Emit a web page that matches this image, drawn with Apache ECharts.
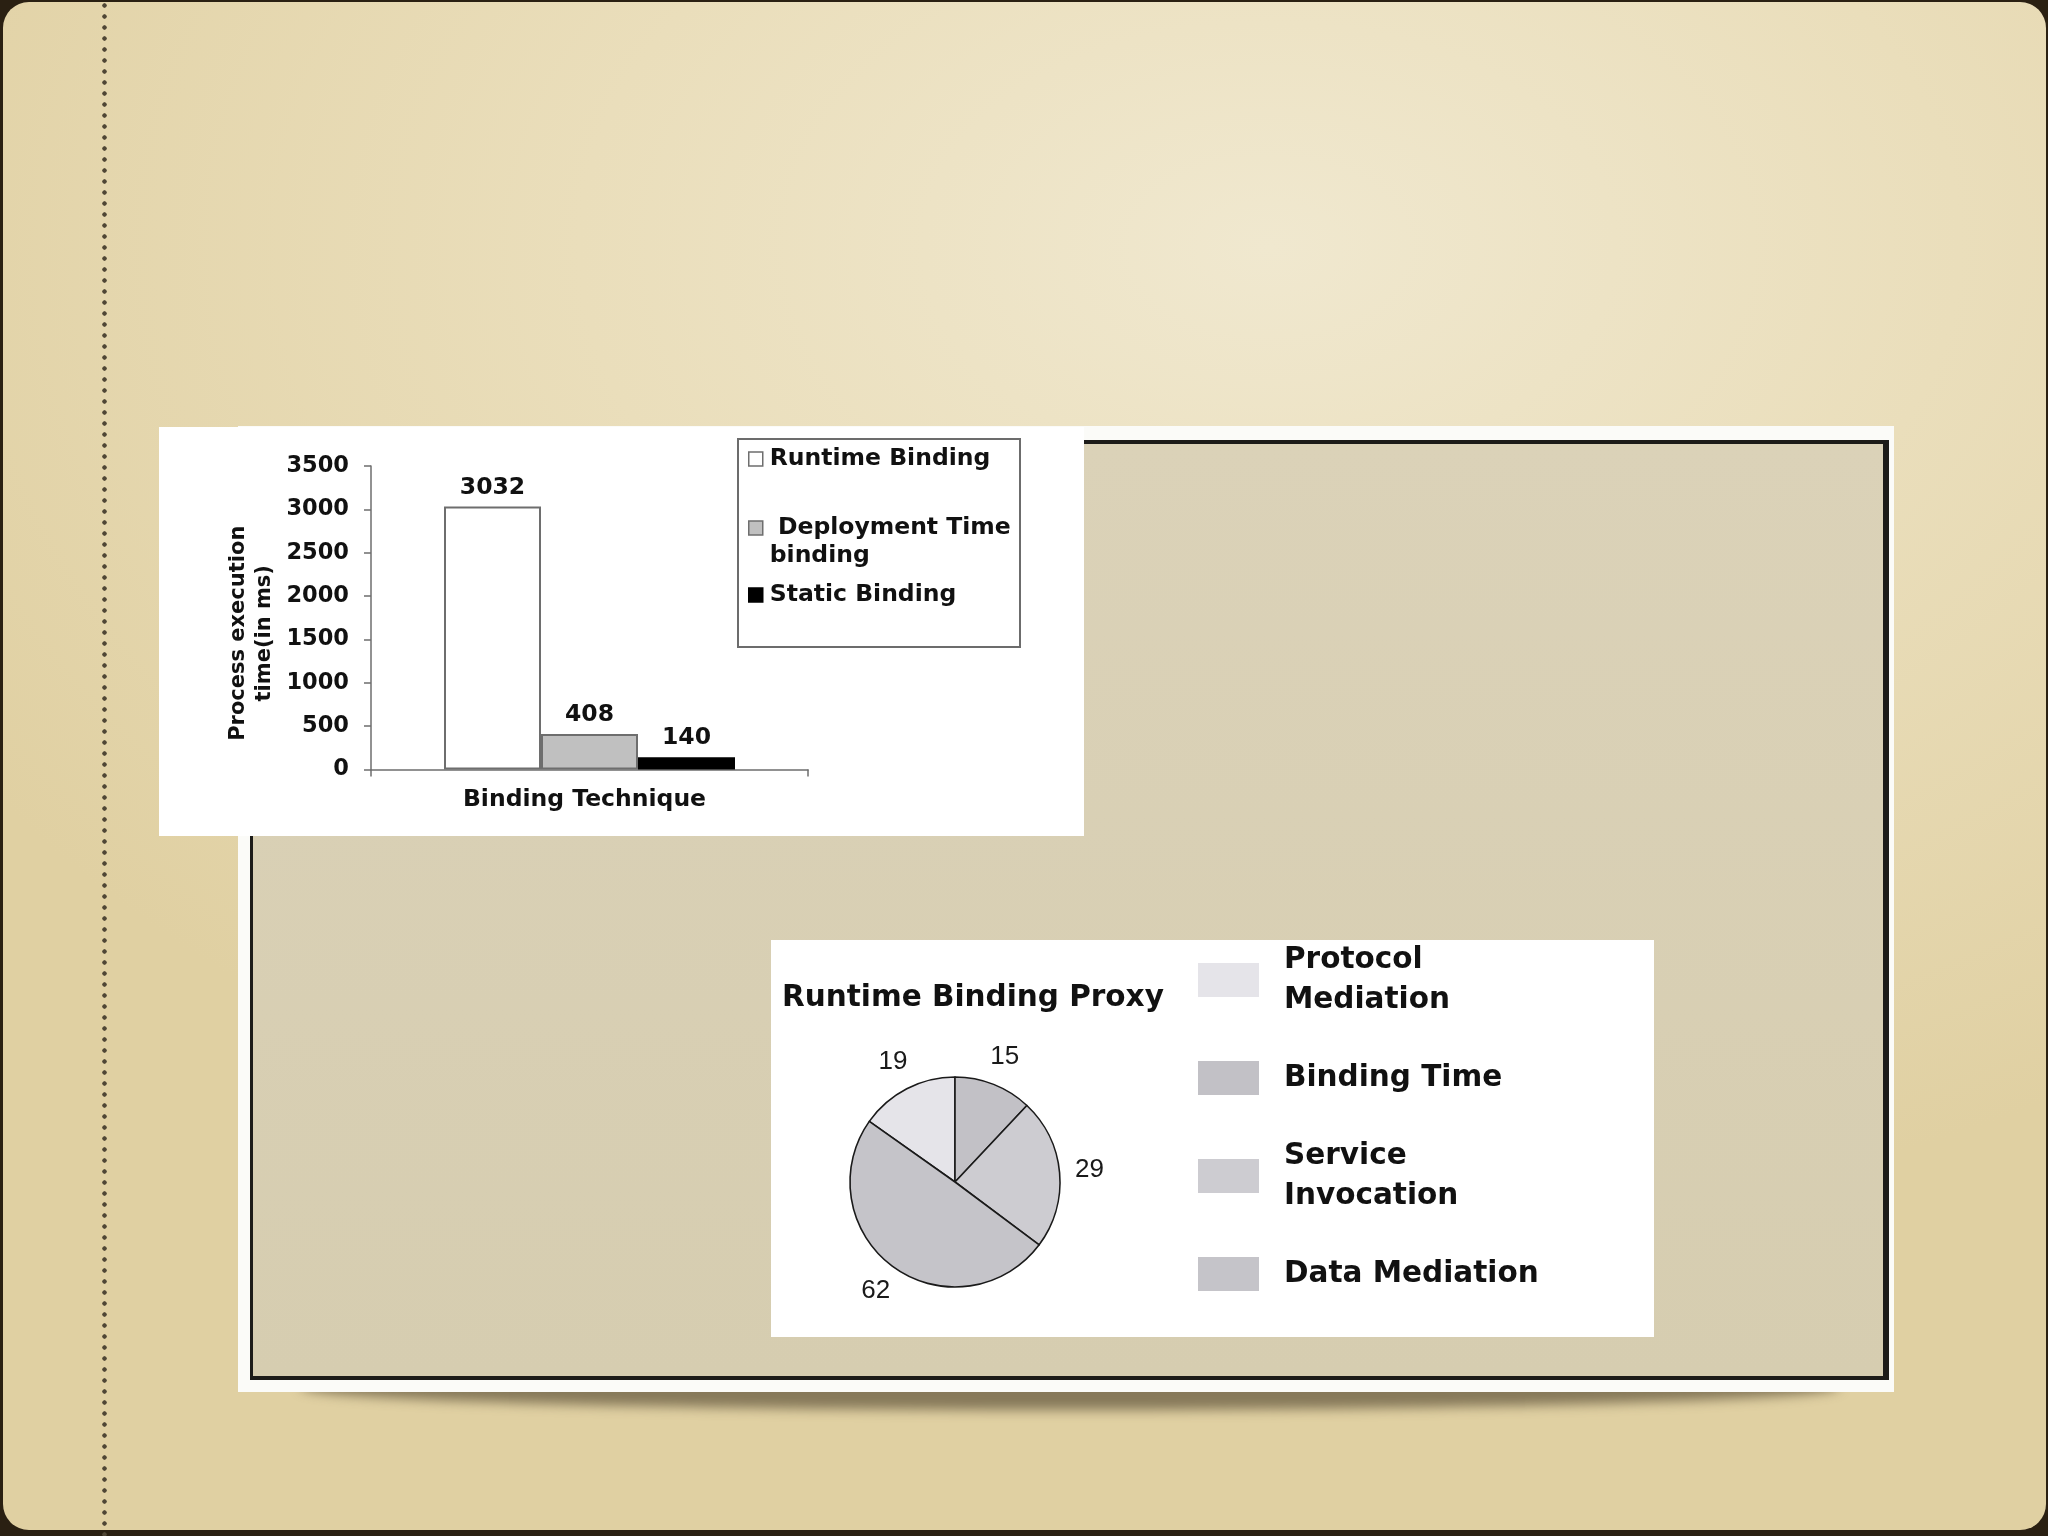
<!DOCTYPE html>
<html>
<head>
<meta charset="utf-8">
<script src="https://cdn.jsdelivr.net/npm/echarts@6/dist/echarts.min.js"></script>
<style>
html,body{margin:0;padding:0;width:2048px;height:1536px;overflow:hidden;background:#2a2012;}
.slide{position:absolute;left:3px;top:2px;right:2px;bottom:6px;border-radius:26px;
  background:radial-gradient(ellipse 75% 65% at 62% 16%, #f0e8cf 0%, #eadebb 45%, #e0d0a2 100%);}
.dots{position:absolute;left:100px;top:0;width:9px;height:1536px;
  background-image:radial-gradient(circle at 4.5px 5.5px,#4f4635 1.9px,rgba(0,0,0,0) 2.5px);
  background-size:9px 11px;background-repeat:repeat-y;}
.shadow{position:absolute;left:300px;top:1364px;width:1540px;height:46px;border-radius:50%;
  background:rgba(75,64,42,0.6);filter:blur(6px);}
.frame{position:absolute;left:238px;top:426px;width:1656px;height:966px;background:#fbfbf8;}
.inner{position:absolute;left:12px;top:14px;right:5px;bottom:12px;border-style:solid;border-color:#1d1c19;
  border-width:4px 6px 4px 3px;background:linear-gradient(#dbd2b8,#d6cdb0);}
.panel{position:absolute;background:#ffffff;}
.lbox{position:absolute;left:737px;top:438px;width:284px;height:210px;box-sizing:border-box;border:2px solid #6c6c6c;}
#chart{position:absolute;left:0;top:0;width:2048px;height:1536px;}
</style>
</head>
<body>
<div class="slide"></div>
<div class="dots"></div>
<div class="shadow"></div>
<div class="frame"><div class="inner"></div></div>
<div class="panel" style="left:159px;top:427px;width:925px;height:409px;"></div>
<div class="panel" style="left:771px;top:940px;width:883px;height:397px;"></div>
<div class="lbox"></div>
<div id="chart"></div>
<script>
// ---- data ----
const barCategories = ['Binding Technique'];
const barSeriesNames = ['Runtime Binding', 'Deployment Time binding', 'Static Binding'];
const barValues = [3032, 408, 140];
const yAxisMin = 0;
const yAxisMax = 3500;
const yAxisStep = 500;
const yAxisTitle = 'Process execution\ntime(in ms)';

const pieTitle = 'Runtime Binding Proxy';
const pieNames = ['Protocol Mediation', 'Binding Time', 'Service Invocation', 'Data Mediation'];
const pieValues = [19, 15, 29, 62];

// ---- styles ----
const barFills = ['#ffffff', '#c0c0c0', '#000000'];
const barBorders = ['#6e6e6e', '#6e6e6e', '#000000'];
const pieFills = ['#e5e4e9', '#c2c1c6', '#cdccd1', '#c5c4c9'];
const BOLD = {fontFamily: 'DejaVu Sans', fontWeight: 'bold', color: '#111111'};
const legendText = {
  'Deployment Time binding': '\n Deployment Time\nbinding',
  'Protocol Mediation': 'Protocol\nMediation',
  'Service Invocation': 'Service\nInvocation'
};
const barLegendTops = [445, 486, 581];
const axisColor = '#6e6e6e';

const pieSum = pieValues.reduce((a, b) => a + b, 0);
const pieStart = 90 + pieValues[0] / pieSum * 360;
const pieData = pieNames.map((n, i) => ({name: n, value: pieValues[i], itemStyle: {color: pieFills[i]}}));

const chart = echarts.init(document.getElementById('chart'));
const option = {
  animation: false,
  title: {
    text: pieTitle, left: 782, top: 983, padding: 0,
    textStyle: Object.assign({}, BOLD, {fontSize: 29.5})
  },
  grid: {left: 371, right: 1240, top: 466, bottom: 766.5},
  xAxis: {
    type: 'category', data: barCategories,
    axisLine: {lineStyle: {color: axisColor, width: 1.5}},
    axisTick: {show: true, length: 7, lineStyle: {color: axisColor, width: 1.5}},
    axisLabel: Object.assign({}, BOLD, {fontSize: 23.5, margin: 18, padding: [0, 10, 0, 0]})
  },
  yAxis: {
    type: 'value', min: yAxisMin, max: yAxisMax, interval: yAxisStep,
    name: yAxisTitle, nameLocation: 'middle', nameRotate: 90, nameGap: 93,
    nameTextStyle: Object.assign({}, BOLD, {fontSize: 21, lineHeight: 26, padding: [0, 31, 0, 0]}),
    axisLine: {show: true, lineStyle: {color: axisColor, width: 1.5}},
    axisTick: {show: true, length: 7, lineStyle: {color: axisColor, width: 1.5}},
    axisLabel: Object.assign({}, BOLD, {fontSize: 22.5, margin: 22, padding: [5, 0, 0, 0], formatter: v => String(v)}),
    splitLine: {show: false}
  },
  legend: barSeriesNames.map((n, i) => ({
    data: [n], left: 748, top: barLegendTops[i], orient: 'vertical', padding: 0,
    itemWidth: 14, itemHeight: 14, icon: 'rect', selectedMode: false,
    itemStyle: {borderWidth: 1.5},
    formatter: nm => legendText[nm] || nm,
    textStyle: Object.assign({}, BOLD, {fontSize: 23.5, lineHeight: 28, padding: [0, 0, 0, 2]})
  })).concat([{
    data: pieNames, left: 1198, top: 940, orient: 'vertical', padding: 0,
    itemWidth: 61, itemHeight: 34, itemGap: 38, icon: 'rect', selectedMode: false,
    itemStyle: {borderWidth: 0},
    formatter: nm => legendText[nm] || nm,
    textStyle: Object.assign({}, BOLD, {fontSize: 29.5, lineHeight: 40, padding: [0, 0, 0, 20]})
  }]),
  series: barSeriesNames.map((n, i) => ({
    type: 'bar', name: n, data: [barValues[i]], barWidth: 97, barGap: '0%',
    itemStyle: {color: barFills[i], borderColor: barBorders[i], borderWidth: 2},
    label: Object.assign({show: true, position: 'top', distance: 7}, BOLD, {fontSize: 23.5}),
    emphasis: {disabled: true}, silent: true
  })).concat([{
    type: 'pie', name: 'pie', center: [955, 1182], radius: [0, 105],
    startAngle: pieStart, clockwise: true, data: pieData,
    itemStyle: {borderColor: '#1a1a1a', borderWidth: 1.6},
    label: {show: false}, labelLine: {show: false},
    emphasis: {disabled: true}, silent: true
  }, {
    type: 'pie', name: 'pieLabels', center: [955, 1182], radius: [0, 264],
    startAngle: pieStart, clockwise: true,
    data: pieNames.map((n, i) => ({name: n, value: pieValues[i]})),
    itemStyle: {color: 'rgba(0,0,0,0)', borderWidth: 0},
    label: {show: true, position: 'inside', formatter: '{c}', fontFamily: 'Liberation Sans', fontSize: 26, color: '#1a1a1a'},
    labelLine: {show: false},
    emphasis: {disabled: true}, silent: true
  }])
};
chart.setOption(option);
</script>
</body>
</html>
